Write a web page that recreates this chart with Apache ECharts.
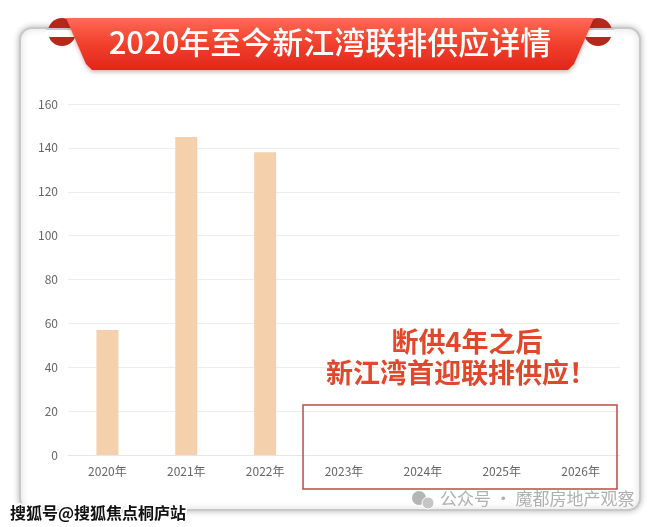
<!DOCTYPE html>
<html><head><meta charset="utf-8">
<script src="https://cdn.jsdelivr.net/npm/echarts@6/dist/echarts.min.js"></script>
<style>html,body{margin:0;padding:0;background:#fff;}#c{width:660px;height:527px;}</style>
</head><body><div id="c"></div>
<script>
const categories = ['2020年','2021年','2022年','2023年','2024年','2025年','2026年'];
const supply = [57, 145, 138, null, null, null, null];
const yTicks = [0, 20, 40, 60, 80, 100, 120, 140, 160];
const titleText = '2020年至今新江湾联排供应详情';
const noteLines = ['断供4年之后', '新江湾首迎联排供应！'];

const chart = echarts.init(document.getElementById('c'), null, {renderer:'canvas'});
const F = '"Noto Sans CJK SC","Noto Sans",sans-serif';
chart.setOption({
  backgroundColor: '#ffffff',
  animation: false,
  grid: {left: 68, right: 40, top: 104, bottom: 72},
  xAxis: {
    type: 'category', data: categories,
    axisLine: {lineStyle: {color: '#e6e6e6'}},
    axisTick: {show: false},
    axisLabel: {color: '#666666', fontSize: 12, fontFamily: F, margin: 10}
  },
  yAxis: {
    type: 'value', min: yTicks[0], max: yTicks[yTicks.length-1], interval: 20,
    axisLine: {show: false}, axisTick: {show: false},
    axisLabel: {color: '#666666', fontSize: 12, fontFamily: F, margin: 10},
    splitLine: {lineStyle: {color: '#ececec'}}
  },
  series: [{
    type: 'bar', data: supply, barWidth: 22,
    itemStyle: {color: '#f4d0ac'}
  }],
  graphic: [
    {type:'rect', z:-10, shape:{x:20, y:28, width:620, height:482, r:12},
     style:{fill:'#fff', stroke:'#c8c8c8', lineWidth:2, shadowBlur:6, shadowColor:'rgba(0,0,0,0.25)'}},
    {type:'circle', z:5, shape:{cx:62, cy:32, r:14}, style:{fill:'#b5281a'}},
    {type:'circle', z:5, shape:{cx:598, cy:32, r:14}, style:{fill:'#b5281a'}},
    {type:'rect', z:6, shape:{x:46, y:29, width:34, height:8}, style:{fill:'#fff'}},
    {type:'rect', z:6, shape:{x:580, y:29, width:34, height:8}, style:{fill:'#fff'}},
    {type:'line', z:6, shape:{x1:46, y1:29, x2:80, y2:29}, style:{stroke:'#c8c8c8', lineWidth:2}},
    {type:'line', z:6, shape:{x1:580, y1:29, x2:614, y2:29}, style:{stroke:'#c8c8c8', lineWidth:2}},
    {type:'polygon', z:7, shape:{points:[[66,18],[594,18],[574,64],[568,70],[92,70],[86,64]]},
     style:{fill:new echarts.graphic.LinearGradient(0,0,0,1,[{offset:0,color:'#ff6a55'},{offset:0.5,color:'#f2402c'},{offset:1,color:'#e0261a'}]),
            shadowBlur:4, shadowColor:'rgba(120,0,0,0.3)', shadowOffsetY:2}},
    {type:'text', z:8, left:'center', top:27,
     style:{text:titleText, fill:'#fff', font:'500 31px "Noto Sans CJK SC",sans-serif',
            shadowBlur:2, shadowColor:'rgba(120,0,0,0.4)', shadowOffsetY:1}},
    {type:'rect', z:9, shape:{x:303, y:405, width:314, height:84},
     style:{fill:'none', stroke:'#b84c46', lineWidth:1.5}},
    {type:'text', z:9, x:467, y:342,
     style:{text:noteLines[0], fill:'#e1482b', font:'bold 27px "Noto Sans CJK SC",sans-serif', align:'center', verticalAlign:'middle'}},
    {type:'text', z:9, x:461, y:373,
     style:{text:noteLines[1], fill:'#e1482b', font:'bold 27px "Noto Sans CJK SC",sans-serif', align:'center', verticalAlign:'middle'}},
    {type:'circle', z:9, shape:{cx:419, cy:498, r:7}, style:{fill:'#b5b5b5'}},
    {type:'circle', z:9, shape:{cx:428, cy:503, r:6}, style:{fill:'#c5c5c5', stroke:'#fff', lineWidth:1}},
    {type:'text', z:9, x:440, y:499,
     style:{text:'公众号 · 魔都房地产观察', fill:'#b0b0b0', font:'17px "Noto Sans CJK SC",sans-serif', verticalAlign:'middle'}},
    {type:'text', z:9, x:10, y:513,
     style:{text:'搜狐号@搜狐焦点桐庐站', fill:'#111', stroke:'#fff', lineWidth:3, font:'bold 16px "Noto Sans CJK SC",sans-serif', verticalAlign:'middle'}}
  ]
});
</script></body></html>
